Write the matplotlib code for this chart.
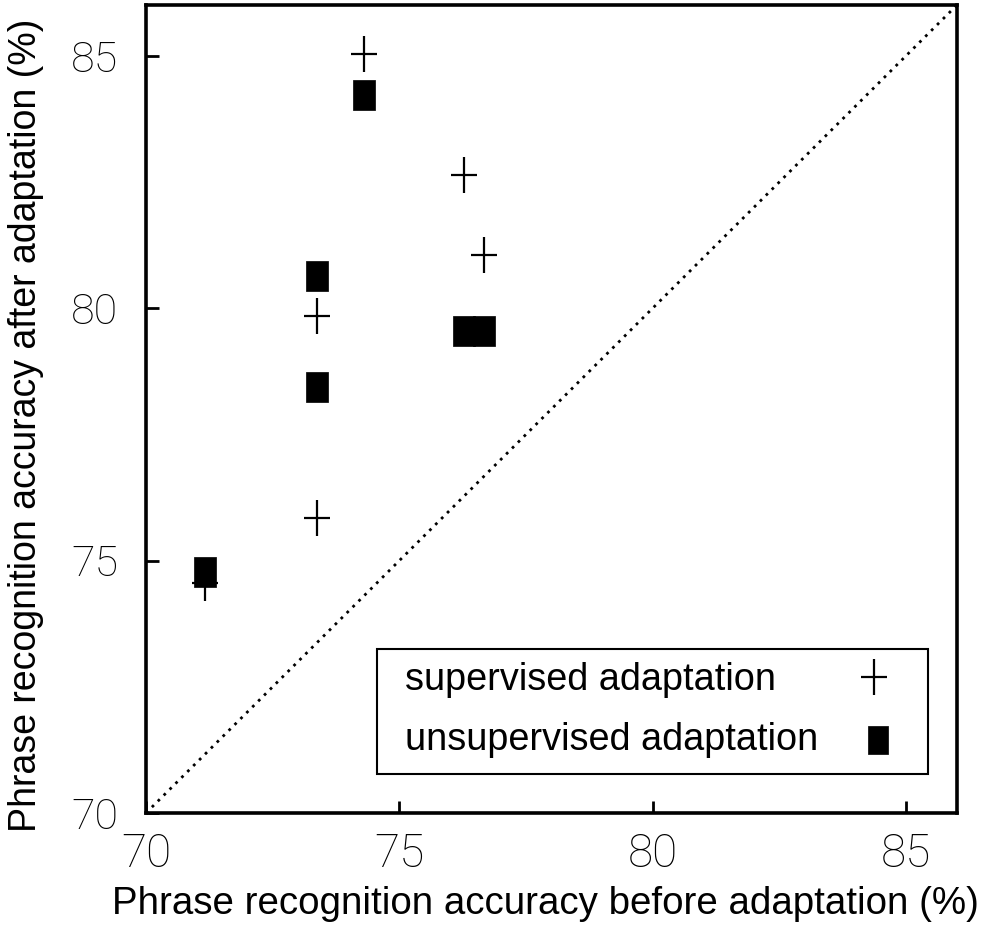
import matplotlib
matplotlib.use("Agg")
import matplotlib.pyplot as plt
from matplotlib.path import Path
from matplotlib.patches import Rectangle

# Per-speaker phrase recognition accuracy (%) before / after adaptation
sup_before = [74.3, 76.27, 76.67, 73.38, 73.38, 71.17]
sup_after = [85.03, 82.63, 81.04, 79.84, 75.85, 74.55]
unsup_before = [74.3, 73.38, 76.27, 76.67, 73.38, 71.17]
unsup_after = [84.22, 80.63, 79.55, 79.55, 78.44, 74.77]

axis_min, axis_max = 70, 86
ticks = [70, 75, 80, 85]
tick_labels = ["70", "75", "80", "85"]
legend_labels = ["supervised adaptation", "unsupervised adaptation"]

plt.rcParams["font.family"] = ["Liberation Sans", "DejaVu Sans"]

# Tall plus and tall filled rectangle markers
plus_marker = Path([(-0.36, 0), (0.36, 0), (0, -0.5), (0, 0.5)],
                   [Path.MOVETO, Path.LINETO, Path.MOVETO, Path.LINETO])
rect_marker = Path([(-0.367, -0.5), (0.367, -0.5), (0.367, 0.5),
                    (-0.367, 0.5), (-0.367, -0.5)],
                   [Path.MOVETO, Path.LINETO, Path.LINETO, Path.LINETO,
                    Path.CLOSEPOLY])

W, H = 988, 926
fig = plt.figure(figsize=(W / 100, H / 100), dpi=100)
ax_left, ax_bottom, ax_w, ax_h = 146, 113, 811, 808
ax = fig.add_axes([ax_left / W, ax_bottom / H, ax_w / W, ax_h / H])


def fx(px):
    return (px - ax_left) / ax_w


def fy(py):
    return (H - ax_bottom - py) / ax_h


ax.plot([axis_min, axis_max], [axis_min, axis_max], color="black",
        linestyle=(0, (1, 2)), linewidth=2.0, zorder=1)

ax.plot(sup_before, sup_after, linestyle="none", marker=plus_marker,
        markersize=26, markeredgewidth=1.6, color="black", zorder=2)
ax.plot(unsup_before, unsup_after, linestyle="none", marker=rect_marker,
        markersize=21.6, markeredgewidth=0.5, color="black", zorder=3)

ax.set_xlim(axis_min, axis_max)
ax.set_ylim(axis_min, axis_max)
ax.set_xticks(ticks)
ax.set_yticks(ticks)
tick_font = dict(fontfamily=["Roboto", "DejaVu Sans"], fontweight="light")
ax.set_xticklabels(tick_labels, fontsize=33, **tick_font)
ax.set_yticklabels(tick_labels, fontsize=31, **tick_font)
ax.tick_params(axis="both", direction="in", length=9, width=2,
               color="black", labelcolor="black")
ax.tick_params(axis="x", pad=14)
ax.tick_params(axis="y", pad=20)
for side in ax.spines.values():
    side.set_linewidth(2.6)

ax.set_xlabel("Phrase recognition accuracy before adaptation (%)",
              fontsize=27.7)
ax.xaxis.set_label_coords(fx(545), fy(886))
ax.set_ylabel("Phrase recognition accuracy after adaptation (%)",
              fontsize=27)
ax.yaxis.set_label_coords(fx(44), fy(425))

# Legend box: labels on the left, marker samples on the right
ax.add_patch(Rectangle((fx(377), fy(774)), fx(928) - fx(377),
                       fy(649) - fy(774), transform=ax.transAxes,
                       facecolor="white", edgecolor="black", linewidth=1.5,
                       zorder=4))
ax.text(fx(405), fy(690), legend_labels[0], transform=ax.transAxes,
        fontsize=27.3, ha="left", va="baseline", zorder=5)
ax.text(fx(405), fy(750), legend_labels[1], transform=ax.transAxes,
        fontsize=27.3, ha="left", va="baseline", zorder=5)
ax.plot([fx(874)], [fy(677)], transform=ax.transAxes, linestyle="none",
        marker=plus_marker, markersize=26, markeredgewidth=1.6,
        color="black", zorder=5, clip_on=False)
ax.plot([fx(878)], [fy(740)], transform=ax.transAxes, linestyle="none",
        marker=rect_marker, markersize=20, markeredgewidth=0.5,
        color="black", zorder=5, clip_on=False)

fig.savefig("out.png", dpi=100)
